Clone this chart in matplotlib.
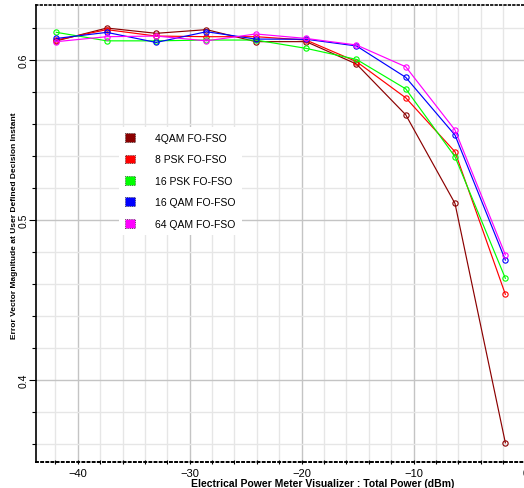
import matplotlib
matplotlib.use('Agg')
import matplotlib.pyplot as plt
from matplotlib.patches import Patch
from matplotlib.ticker import MultipleLocator

plt.rcParams['font.family'] = ['Liberation Sans', 'DejaVu Sans']

# received power (dBm)
power = [-41.9, -37.4, -33.0, -28.5, -24.1, -19.6, -15.1, -10.7, -6.3, -1.8]

evm_4qam = [0.6120, 0.6200, 0.6167, 0.6190, 0.6115, 0.6115, 0.5975, 0.5658, 0.5104, 0.3608]
evm_8psk = [0.6125, 0.6190, 0.6150, 0.6146, 0.6146, 0.6125, 0.5990, 0.5764, 0.5427, 0.4536]
evm_16psk = [0.6173, 0.6120, 0.6120, 0.6125, 0.6125, 0.6073, 0.6004, 0.5820, 0.5396, 0.4636]
evm_16qam = [0.6135, 0.6173, 0.6110, 0.6177, 0.6131, 0.6130, 0.6088, 0.5892, 0.5531, 0.4750]
evm_64qam = [0.6115, 0.6146, 0.6150, 0.6120, 0.6163, 0.6135, 0.6094, 0.5958, 0.5563, 0.4783]

labels = ['4QAM FO-FSO', '8 PSK FO-FSO', '16 PSK FO-FSO', '16 QAM FO-FSO', '64 QAM FO-FSO']
colors = ['#8b0000', '#ff0000', '#00ff00', '#0000ff', '#ff00ff']
series = [evm_4qam, evm_8psk, evm_16psk, evm_16qam, evm_64qam]

fig = plt.figure(figsize=(5.24, 4.89), dpi=100)
ax = fig.add_axes([36/524, 26/489, 489.5/524, 457/489])

for ys, c in zip(series, colors):
    ax.plot(power, ys, color=c, lw=0.85, marker='o', ms=3.8, mfc='none', mec=c, mew=0.8)

ax.set_xlim(-43.73, 0.0)
ax.set_ylim(0.3488, 0.6344)

ax.xaxis.set_major_locator(MultipleLocator(10))
ax.xaxis.set_minor_locator(MultipleLocator(2))
ax.yaxis.set_major_locator(MultipleLocator(0.1))
ax.yaxis.set_minor_locator(MultipleLocator(0.02))

ax.grid(which='major', color='#c4c4c4', lw=1.0)
ax.grid(which='minor', color='#e6e6e6', lw=1.0)
ax.set_axisbelow(True)

ax.spines['right'].set_visible(False)
ax.spines['top'].set_linestyle(':')
ax.spines['top'].set_linewidth(1.2)
ax.spines['bottom'].set_linestyle(':')
ax.spines['bottom'].set_linewidth(1.4)
ax.spines['left'].set_linewidth(1.2)

ax.tick_params(axis='x', which='both', direction='inout', length=3, width=0.8, labelsize=8, pad=3)
ax.tick_params(axis='y', which='major', length=5, width=0.8, labelsize=7.5, pad=0.5)
ax.tick_params(axis='y', which='minor', length=3, width=0.8)
for t in ax.get_yticklabels():
    t.set_rotation(90)
    t.set_va('center')

ax.set_xlabel('Electrical Power Meter Visualizer : Total Power (dBm)', fontsize=7.5, fontweight='bold')
ax.xaxis.set_label_coords(0.585, -0.035)
ax.set_ylabel('Error Vector Magnitude at User Defined Decision Instant', fontsize=6,
              fontweight='bold', family=['Liberation Sans Narrow', 'Liberation Sans'])
ax.yaxis.set_label_coords(-0.037, 0.52)

handles = [Patch(facecolor=c, edgecolor='#333333', linestyle=':', linewidth=0.6) for c in colors]
leg = ax.legend(handles, labels, loc='upper left', bbox_to_anchor=(0.158, 0.745), fontsize=7.5,
                frameon=True, fancybox=False, framealpha=1, facecolor='white', edgecolor='none',
                handlelength=1.0, handleheight=0.9, handletextpad=1.9, labelspacing=1.1,
                borderpad=0.6)

fig.savefig('out.png', dpi=100)
